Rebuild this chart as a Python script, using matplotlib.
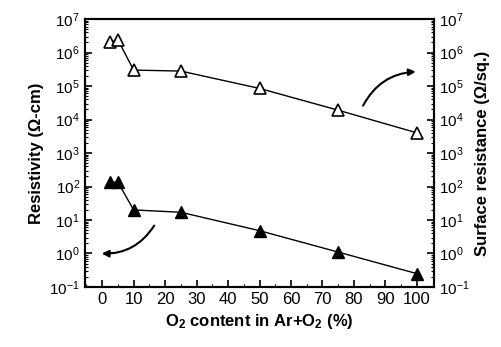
import numpy as np
import matplotlib
matplotlib.use("Agg")
import matplotlib.pyplot as plt
from matplotlib.ticker import LogLocator, NullFormatter

plt.rcParams["font.family"] = ["Liberation Sans", "DejaVu Sans"]
plt.rcParams["mathtext.default"] = "regular"

# data
o2 = [2.5, 5, 10, 25, 50, 75, 100]
resistivity = [135, 135, 20, 17, 4.8, 1.1, 0.25]
surface_res = [2.0e6, 2.4e6, 3.0e5, 2.8e5, 8.5e4, 1.9e4, 4.0e3]
xticks = [0, 10, 20, 30, 40, 50, 60, 70, 80, 90, 100]

fig = plt.figure(figsize=(5.02, 3.47), dpi=100)
ax = fig.add_axes([0.169, 0.173, 0.696, 0.772])
ax2 = ax.twinx()

ax.plot(o2, resistivity, "-", color="black", lw=1.0,
        marker="^", markersize=9, markerfacecolor="black", markeredgecolor="black")
ax2.plot(o2, surface_res, "-", color="black", lw=1.0,
         marker="^", markersize=9, markerfacecolor="white", markeredgecolor="black",
         markeredgewidth=1.2)

for a in (ax, ax2):
    a.set_yscale("log")
    a.set_ylim(1e-1, 1e7)
    a.yaxis.set_major_locator(LogLocator(base=10, numticks=20))
    a.yaxis.set_minor_locator(LogLocator(base=10, subs=np.arange(2, 10), numticks=20))
    a.yaxis.set_minor_formatter(NullFormatter())
    a.tick_params(axis="y", which="major", direction="in", length=5, width=1.2, labelsize=11)
    a.tick_params(axis="y", which="minor", direction="in", length=2.5, width=0.8)
    for s in a.spines.values():
        s.set_linewidth(1.5)

ax.set_xlim(-5.5, 105.5)
ax.set_xticks(xticks)
ax.set_xticks(np.arange(-5, 106, 5), minor=True)
ax.tick_params(axis="x", which="major", direction="in", length=5, width=1.2, labelsize=12)
ax.tick_params(axis="x", which="minor", direction="in", length=2.5, width=0.8)

ax.set_xlabel("O$_2$ content in Ar+O$_2$ (%)", fontsize=12, fontweight="bold")
ax.set_ylabel("Resistivity (Ω-cm)", fontsize=12, fontweight="bold")
ax2.set_ylabel("Surface resistance (Ω/sq.)", fontsize=12, fontweight="bold")

# curved arrows pointing to the relevant axes
ax.annotate("", xy=(-1, 1.0), xytext=(17, 8),
            arrowprops=dict(arrowstyle="-|>", color="black", lw=1.5,
                            connectionstyle="arc3,rad=-0.3", mutation_scale=10))
ax2.annotate("", xy=(100.5, 2.7e5), xytext=(82.5, 2.2e4),
             arrowprops=dict(arrowstyle="-|>", color="black", lw=1.5,
                             connectionstyle="arc3,rad=-0.3", mutation_scale=10))

fig.savefig("out.png", dpi=100)
